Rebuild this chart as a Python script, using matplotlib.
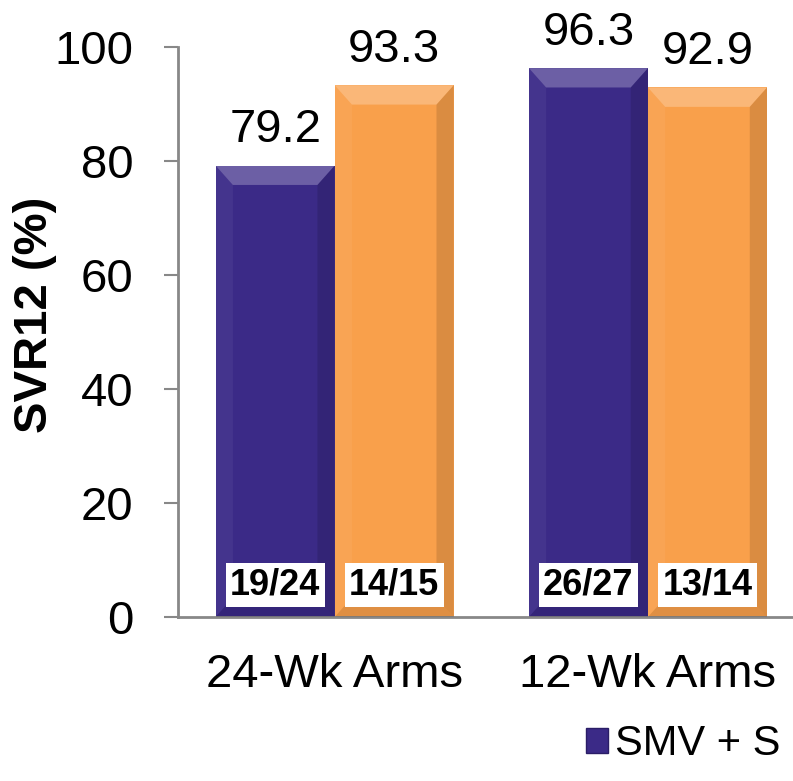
import numpy as np
import matplotlib
matplotlib.use("Agg")
from matplotlib import pyplot as plt
from matplotlib.patches import Polygon, Rectangle

plt.rcParams['font.family'] = ['Liberation Sans', 'DejaVu Sans']

# data
categories = ['24-Wk Arms', '12-Wk Arms']
smv_s = [79.2, 96.3]        # purple series
other_arm = [93.3, 92.9]    # orange series
smv_s_n = ['19/24', '26/27']
other_n = ['14/15', '13/14']
series_name = 'SMV + S'

purple = '#3b2a87'
orange = '#f9a04b'

fig = plt.figure(figsize=(7.93, 7.81), dpi=100)
ax = fig.add_axes([0.2245, 0.21, 0.7755, 0.7298])

x = np.arange(len(categories))
w = 0.38

b1 = ax.bar(x - w / 2, smv_s, w, color=purple, zorder=2)
b2 = ax.bar(x + w / 2, other_arm, w, color=orange, zorder=2)

# fake bevel on each bar (light top/left, dark right/bottom)
bx, by = 0.055, 3.4
for bar in list(b1) + list(b2):
    x0, x1 = bar.get_x(), bar.get_x() + bar.get_width()
    y0, y1 = 0, bar.get_height()
    faces = [
        ([(x0, y1), (x1, y1), (x1 - bx, y1 - by), (x0 + bx, y1 - by)], 'white', 0.25),
        ([(x0, y0), (x0, y1), (x0 + bx, y1 - by), (x0 + bx, y0 + by)], 'white', 0.05),
        ([(x1, y0), (x1, y1), (x1 - bx, y1 - by), (x1 - bx, y0 + by)], 'black', 0.12),
        ([(x0, y0), (x1, y0), (x1 - bx, y0 + by), (x0 + bx, y0 + by)], 'black', 0.10),
    ]
    for pts, c, a in faces:
        ax.add_patch(Polygon(pts, closed=True, facecolor=c, alpha=a,
                             edgecolor='none', zorder=3))

# value labels above bars
for bars, vals in [(b1, smv_s), (b2, other_arm)]:
    for bar, v in zip(bars, vals):
        ax.text(bar.get_x() + bar.get_width() / 2, v + 2.3, f'{v:.1f}',
                ha='center', va='bottom', fontsize=34, zorder=4)

# n/N boxes at bottom of bars
for bars, labs in [(b1, smv_s_n), (b2, other_n)]:
    for bar, lab in zip(bars, labs):
        ax.text(bar.get_x() + bar.get_width() / 2, 5.6, lab,
                ha='center', va='center', fontsize=26, fontweight='bold',
                bbox=dict(boxstyle='square,pad=0.12', fc='white', ec='none'),
                zorder=5)

ax.set_ylim(0, 100)
ax.set_xlim(-0.5, 1.463)
ax.set_yticks([0, 20, 40, 60, 80, 100])
ax.set_xticks(x)
ax.set_xticklabels(categories)
ax.tick_params(axis='y', labelsize=34, length=10, width=1.5, color='#888888', pad=22)
ax.tick_params(axis='x', labelsize=34, length=0, pad=26)
ax.set_ylabel('SVR12 (%)', fontsize=34, fontweight='bold', va='center')
ax.yaxis.set_label_coords(-0.232, 0.53)

for s in ['top', 'right']:
    ax.spines[s].set_visible(False)
for s in ['left', 'bottom']:
    ax.spines[s].set_color('#888888')
    ax.spines[s].set_linewidth(2)

handle = Rectangle((0, 0), 1, 1, facecolor=purple, edgecolor='#2a1d66')
fig.legend([handle], [series_name], loc='lower right', bbox_to_anchor=(1.01, -0.005),
           frameon=False, fontsize=30, handlelength=0.55, handleheight=0.55,
           handletextpad=0.15, borderaxespad=0.1)

fig.savefig('out.png', dpi=100)
